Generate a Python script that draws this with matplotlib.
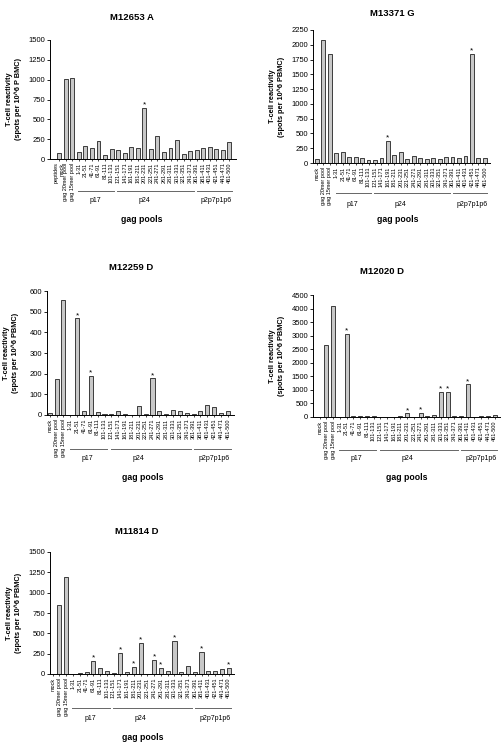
import matplotlib
matplotlib.use("Agg")
import matplotlib.pyplot as plt
import matplotlib.transforms as mtransforms
import numpy as np

plt.rcParams['font.family'] = ['Liberation Sans', 'DejaVu Sans']

W, H = 502, 744

pools = ['1-31', '21-51', '41-71', '61-91', '81-111', '101-131', '121-151',
         '141-171', '161-191', '181-211', '201-231', '221-251', '241-271',
         '261-291', '281-311', '301-331', '321-351', '341-371', '361-391',
         '381-411', '401-431', '421-451', '441-471', '461-500']
controls = ['mock', 'gag 20mer pool', 'gag 15mer pool']
labels = controls + pools
labels_p1 = ['peptides\nmock'] + labels[1:]

groups = ['p17', 'p24', 'p2p7p1p6']

# spots per 10^6 PBMC, order: mock, 20mer, 15mer, then 24 pools
m12653 = [80, 1007, 1019, 88, 164, 143, 231, 50, 122, 113, 80, 151, 134, 642,
          130, 285, 88, 143, 243, 63, 100, 117, 143, 151, 130, 117, 218]
m12653_star = ['201-231']

m13371 = [68, 2087, 1838, 175, 181, 102, 102, 85, 51, 51, 90, 379, 136, 187,
          68, 119, 85, 68, 85, 68, 102, 102, 85, 124, 1849, 85, 85]
m13371_star = ['161-191', '421-451']

m12259 = [11, 175, 555, 0, 468, 21, 189, 16, 6, 6, 19, 5, 0, 42, 5, 178, 19,
          5, 26, 21, 11, 5, 21, 49, 37, 8, 21]
m12259_star = ['21-51', '61-91', '241-271']

m12020 = [15, 2651, 4081, 0, 3058, 25, 37, 25, 37, 12, 0, 12, 50, 136, 12,
          160, 50, 62, 937, 937, 50, 50, 1208, 12, 50, 37, 62]
m12020_star = ['21-51', '201-231', '241-271', '301-331', '321-351', '381-411']

m11814 = [5, 845, 1193, 3, 12, 20, 163, 69, 33, 16, 261, 20, 86, 380, 3, 176,
          74, 37, 404, 29, 98, 25, 270, 33, 33, 61, 74]
m11814_star = ['61-91', '141-171', '181-211', '201-231', '241-271',
               '261-291', '301-331', '381-411', '461-500']

fig = plt.figure(figsize=(W / 100, H / 100), dpi=100)


def panel(title, values, stars, ticklabels, ylabel, ymax, ystep,
          box, xlim, title_xy, line_y, group_y, pools_xy):
    left, top, right, bottom = box
    ax = fig.add_axes([left / W, 1 - bottom / H, (right - left) / W,
                       (bottom - top) / H])
    x = np.arange(len(values))
    ax.bar(x, values, width=0.6, color='#c8c8c8', edgecolor='#222222',
           linewidth=0.6)
    for name in stars:
        i = labels.index(name)
        ax.annotate('*', (i, values[i]), xytext=(0, -0.5),
                    textcoords='offset points', ha='center', va='bottom',
                    fontsize=6)
    ax.set_xlim(*xlim)
    ax.set_ylim(0, ymax)
    ax.set_yticks(np.arange(0, ymax + 1, ystep))
    ax.set_xticks(x)
    ax.set_xticklabels(ticklabels, rotation=90, fontsize=4,
                       multialignment='right')
    ax.tick_params(axis='y', labelsize=5.5, length=2.5, width=0.6, pad=1)
    ax.tick_params(axis='x', length=1.5, width=0.5, pad=1)
    for s in ['top', 'right']:
        ax.spines[s].set_visible(False)
    for s in ['left', 'bottom']:
        ax.spines[s].set_linewidth(0.7)

    fig.text((left - 36) / W, 1 - (top + bottom) / 2 / H, ylabel,
             rotation=90, ha='center', va='center', fontsize=5.3,
             fontweight='bold', multialignment='center')
    fig.text(title_xy[0] / W, 1 - title_xy[1] / H, title, ha='center',
             va='center', fontsize=6.8, fontweight='bold')
    fig.text(pools_xy[0] / W, 1 - pools_xy[1] / H, 'gag pools',
             ha='center', va='center', fontsize=6.3, fontweight='bold')

    trans = mtransforms.blended_transform_factory(ax.transData,
                                                  fig.transFigure)
    spans = [(2.9, 8.4), (8.9, 20.6), (21.0, 26.4)]
    centers = [5.5, 13.0, 24.0]
    for (a, b), c, g in zip(spans, centers, groups):
        ax.plot([a, b], [1 - line_y / H] * 2, transform=trans,
                color='#666666', linewidth=0.7, clip_on=False)
        ax.text(c, 1 - group_y / H, g, transform=trans, ha='center',
                va='center', fontsize=5)
    return ax


yl = 'T-cell reactivity\n(spots per 10^6 PBMC)'

panel('M12653 A', m12653, m12653_star, labels_p1,
      'T-cell reactivity\n(spots per 10^6 P BMC)', 1500, 250,
      (50, 40, 236, 159), (-1.4, 27.0), (132, 18), 191, 201, (142, 219))
panel('M13371 G', m13371, m13371_star, labels, yl, 2250, 250,
      (313, 30, 490, 163), (-0.6, 26.8), (392, 13), 193, 204, (398, 220))
panel('M12259 D', m12259, m12259_star, labels, yl, 600, 100,
      (47, 291, 234, 415), (-0.4, 26.9), (131, 268), 449, 459, (143, 477))
panel('M12020 D', m12020, m12020_star, labels, yl, 4500, 500,
      (313, 295, 500, 417), (-1.0, 26.8), (382, 272), 450, 459, (407, 478))
panel('M11814 D', m11814, m11814_star, labels, yl, 1500, 250,
      (50, 552, 234, 674), (-0.4, 26.8), (137, 532), 708, 718, (143, 737))

fig.savefig('out.png', dpi=100)
